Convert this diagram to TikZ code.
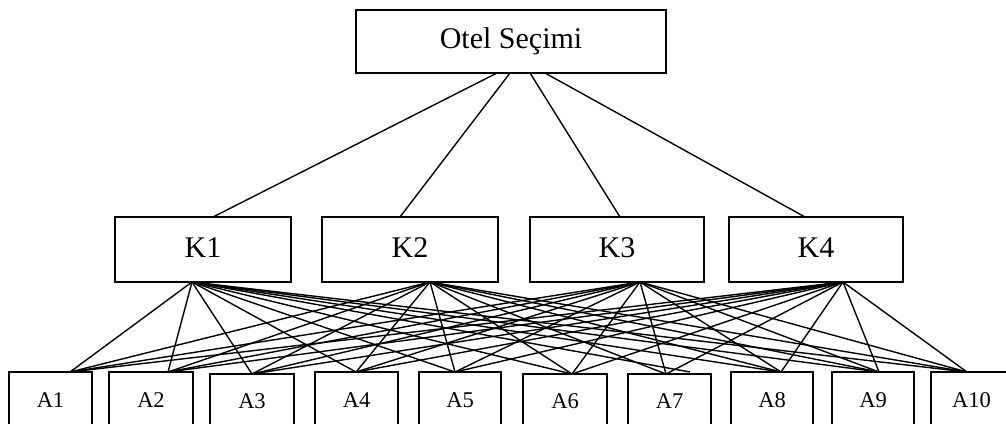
\documentclass[tikz,border=0pt]{standalone}
\usepackage{fontspec}
\setmainfont{Liberation Serif}
\begin{document}
\begin{tikzpicture}[x=1pt,y=-1pt,
  box/.style={draw, line width=1.7pt, inner sep=0pt, rectangle},
  topbox/.style={box, minimum width=310pt, minimum height=63pt, font=\fontsize{30}{30}\selectfont, text height=20pt, text depth=7pt},
  kbox/.style={box, minimum height=65pt, font=\fontsize{30}{30}\selectfont, text height=20pt, text depth=5pt},
  abox/.style={box, font=\fontsize{22.5}{22.5}\selectfont, text height=15pt, text depth=13pt},
  conn/.style={line width=1.4pt}]
\useasboundingbox (0,0) rectangle (1006,423);
\clip (0,0) rectangle (1006,423);

% top
\node[topbox] (O) at (511,41.5) {Otel Seçimi};

% criteria
\node[kbox, minimum width=176pt] (K1) at (203,249.5) {K1};
\node[kbox, minimum width=176pt] (K2) at (410,249.5) {K2};
\node[kbox, minimum width=174pt] (K3) at (617,249.5) {K3};
\node[kbox, minimum width=174pt] (K4) at (816,249.5) {K4};

% alternatives (boxes run past the bottom edge)
\node[abox, minimum width=83pt, minimum height=68pt] (A1) at (50.5,406) {A1};
\node[abox, minimum width=84pt, minimum height=68pt] (A2) at (151,406) {A2};
\node[abox, minimum width=84pt, minimum height=66pt] (A3) at (252,407) {A3};
\node[abox, minimum width=83pt, minimum height=68pt] (A4) at (356.5,406) {A4};
\node[abox, minimum width=82pt, minimum height=68pt] (A5) at (460,406) {A5};
\node[abox, minimum width=84pt, minimum height=66pt] (A6) at (565,407) {A6};
\node[abox, minimum width=83pt, minimum height=66pt] (A7) at (669.5,407) {A7};
\node[abox, minimum width=82pt, minimum height=68pt] (A8) at (772,406) {A8};
\node[abox, minimum width=82pt, minimum height=68pt] (A9) at (873,406) {A9};
\node[abox, minimum width=81pt, minimum height=68pt] (A10) at (971.5,406) {A10};

% attachment points
\coordinate (o1) at (497,73);
\coordinate (o2) at (510,73);
\coordinate (o3) at (530,73);
\coordinate (o4) at (545,73);
\coordinate (t1) at (213,217);
\coordinate (t2) at (400,217);
\coordinate (t3) at (620,217);
\coordinate (t4) at (805,217);

\coordinate (k1) at (192,282);
\coordinate (k2) at (430,282);
\coordinate (k3) at (640,282);
\coordinate (k4) at (843,282);

\coordinate (a1) at (70,372);
\coordinate (a2) at (168,372);
\coordinate (a3) at (252,374);
\coordinate (a4) at (356,372);
\coordinate (a5) at (455,372);
\coordinate (a6) at (572,374);
\coordinate (a7) at (666,374);
\coordinate (a8) at (781,372);
\coordinate (a9) at (879,372);
\coordinate (a10) at (967,372);
\coordinate (a7x) at (690,372);

% goal to criteria
\draw[conn] (o1) -- (t1);
\draw[conn] (o2) -- (t2);
\draw[conn] (o3) -- (t3);
\draw[conn] (o4) -- (t4);

% criteria to alternatives
\foreach \k in {1,2,3,4}{
  \foreach \a in {1,2,3,4,5,6,8,9,10}{
    \draw[conn] (k\k) -- (a\a);
  }
}
\draw[conn] (k1) -- (a7x);
\foreach \k in {2,3,4}{ \draw[conn] (k\k) -- (a7); }
\end{tikzpicture}
\end{document}
